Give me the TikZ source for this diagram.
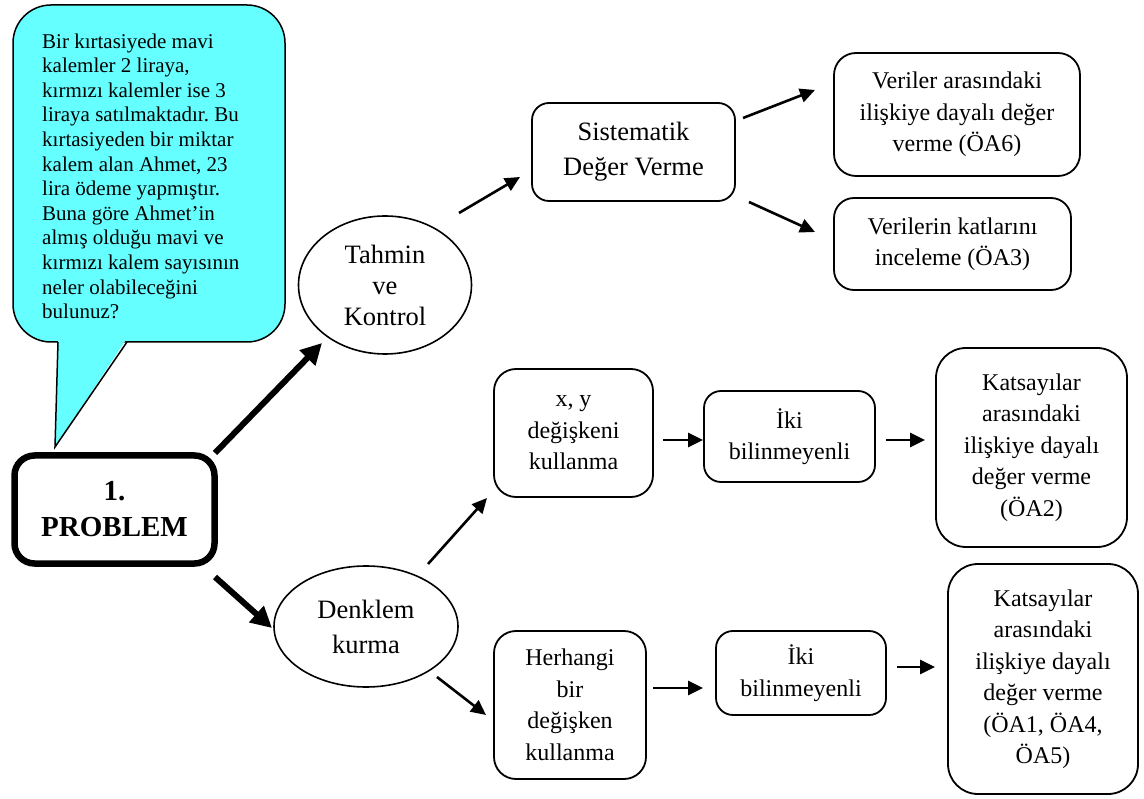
\documentclass[tikz,border=0pt]{standalone}
\usepackage{fontspec}
\setmainfont{Liberation Serif}
\usetikzlibrary{arrows.meta,shapes.geometric}
\definecolor{calloutfill}{RGB}{102,255,255}
\frenchspacing
\begin{document}
\begin{tikzpicture}[x=1pt,y=-1pt,
  box/.style={draw, line width=1.8pt, rounded corners=#1, align=center, inner sep=0pt, font=\fontsize{24}{31.5}\selectfont},
  box/.default=18pt,
  ell/.style={draw, ellipse, line width=1.6pt, inner sep=0pt, align=center, font=\fontsize{26.5}{31}\selectfont},
  arr/.style={line width=2.6pt, -{Triangle[length=15pt,width=14pt]}},
  bigarr/.style={line width=6pt, -{Triangle[length=21pt,width=21pt]}},
  calloutline/.style={line width=1.5pt, line join=miter},
]
\useasboundingbox (0,0) rectangle (1144,799);

% callout
\draw[calloutline, fill=calloutfill, rounded corners=38pt] (13,5) rectangle (285,342);
\fill[calloutfill] (58.2,339) -- (55,447) -- (126.5,339) -- cycle;
\draw[calloutline] (58,342) -- (55,447) -- (127,342);
\node[anchor=north west, inner sep=0pt, align=left, font=\fontsize{21}{24.6}\selectfont] (q) at (42,33.4) {Bir kırtasiyede mavi\\kalemler 2 liraya,\\kırmızı kalemler ise 3\\liraya satılmaktadır. Bu\\kırtasiyeden bir miktar\\kalem alan Ahmet, 23\\lira ödeme yapmıştır.\\Buna göre Ahmet’in\\almış olduğu mavi ve\\kırmızı kalem sayısının\\neler olabileceğini\\bulunuz?};

% problem
\node[draw, line width=6.5pt, rounded corners=20pt, minimum width=200pt, minimum height=108pt, align=center, inner sep=0pt, font=\fontsize{29}{36}\selectfont\bfseries] (prob) at (114.5,509.5) {1.\\PROBLEM};

% ellipses
\node[ell, minimum width=173pt, minimum height=138pt] (tah) at (385,285) {Tahmin\\ve\\Kontrol};
\node[ell, minimum width=184pt, minimum height=121pt, font=\fontsize{26.5}{35}\selectfont] (den) at (366,626.5) {Denklem\\kurma};

% boxes
\node[box=17pt, minimum width=203pt, minimum height=98pt, font=\fontsize{26.5}{35}\selectfont] (sis) at (633.5,152) {Sistematik\\Değer Verme};
\node[box=22pt, minimum width=246pt, minimum height=123pt] (oa6) at (957,114.5) {Veriler arasındaki\\ilişkiye dayalı değer\\verme (ÖA6)};
\node[box=20pt, minimum width=237pt, minimum height=92pt] (oa3) at (952.5,244) {Verilerin katlarını\\inceleme (ÖA3)};
\node[box=22pt, minimum width=159pt, minimum height=128pt] (xy) at (573.5,433) {x, y\\değişkeni\\kullanma};
\node[box=17pt, minimum width=171pt, minimum height=91pt] (iki1) at (789.5,436.5) {İki\\bilinmeyenli};
\node[box=30pt, minimum width=191pt, minimum height=199pt] (kat1) at (1031.5,447.5) {Katsayılar\\arasındaki\\ilişkiye dayalı\\değer verme\\(ÖA2)};
\node[box=22pt, minimum width=152pt, minimum height=148pt] (her) at (570,705) {Herhangi\\bir\\değişken\\kullanma};
\node[box=17pt, minimum width=170pt, minimum height=84pt] (iki2) at (801,673) {İki\\bilinmeyenli};
\node[box=30pt, minimum width=190pt, minimum height=230pt] (kat2) at (1043,679) {Katsayılar\\arasındaki\\ilişkiye dayalı\\değer verme\\(ÖA1, ÖA4,\\ÖA5)};

% arrows
\draw[bigarr] ([shift={(100.5,-56.5)}]prob.center) -- ([shift={(-63,58)}]tah.center);
\draw[bigarr] ([shift={(100.5,67.5)}]prob.center) -- ([shift={(-94,1.5)}]den.center);
\draw[arr] ([shift={(74,-72)}]tah.center) -- ([shift={(-113.5,25)}]sis.center);
\draw[arr] ([shift={(109.5,-34)}]sis.center) -- ([shift={(-142,-24.5)}]oa6.center);
\draw[arr] ([shift={(115.5,50)}]sis.center) -- ([shift={(-137.5,-12)}]oa3.center);
\draw[arr] ([shift={(62,-62.5)}]den.center) -- ([shift={(-86.5,65)}]xy.center);
\draw[arr] ([shift={(89.5,7)}]xy.center) -- ([shift={(-86.5,3.5)}]iki1.center);
\draw[arr] ([shift={(96.5,3.5)}]iki1.center) -- ([shift={(-106.5,-7.5)}]kat1.center);
\draw[arr] ([shift={(71,50.5)}]den.center) -- ([shift={(-84,10)}]her.center);
\draw[arr] ([shift={(83,-17)}]her.center) -- ([shift={(-98,15)}]iki2.center);
\draw[arr] ([shift={(96,-6)}]iki2.center) -- ([shift={(-108,-12)}]kat2.center);
\end{tikzpicture}
\end{document}
